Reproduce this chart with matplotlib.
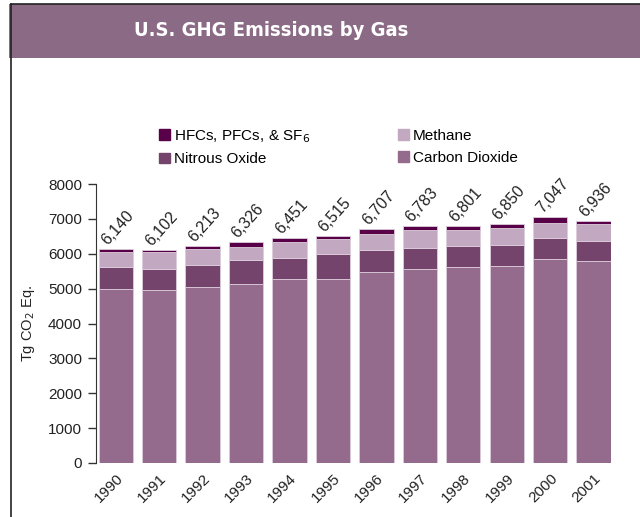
import numpy as np
import matplotlib
matplotlib.use('Agg')
import matplotlib.pyplot as plt
from matplotlib.patches import Rectangle, Patch
from matplotlib.lines import Line2D
from matplotlib import font_manager

plt.rcParams['font.family'] = ['Liberation Sans', 'DejaVu Sans']

years = ['1990', '1991', '1992', '1993', '1994', '1995',
         '1996', '1997', '1998', '1999', '2000', '2001']
totals = [6140, 6102, 6213, 6326, 6451, 6515, 6707, 6783, 6801, 6850, 7047, 6936]

# Tg CO2 Eq. (bottom to top)
co2 = [4990, 4950, 5045, 5140, 5275, 5275, 5490, 5560, 5625, 5655, 5855, 5785]
n2o = [635, 605, 645, 685, 605, 705, 615, 615, 585, 585, 590, 590]
ch4 = [430, 490, 455, 355, 455, 430, 475, 505, 485, 505, 440, 465]
hfc = [85, 57, 68, 146, 116, 105, 127, 103, 106, 105, 162, 96]

c_co2 = '#946b8d'
c_n2o = '#74446c'
c_ch4 = '#c2a8c0'
c_hfc = '#580048'
band = '#8a6a84'

fig = plt.figure(figsize=(6.4, 5.17), dpi=100)

# header band and frame
fig.patches.append(Rectangle((9 / 640, 1 - 58 / 517), 1, 54 / 517,
                             transform=fig.transFigure, facecolor=band,
                             edgecolor='none', zorder=0))
fig.lines.append(Line2D([11 / 640, 11 / 640], [0, 1 - 3.5 / 517],
                        transform=fig.transFigure, color='#222222', lw=1.2))
fig.lines.append(Line2D([11 / 640, 1], [1 - 3.5 / 517, 1 - 3.5 / 517],
                        transform=fig.transFigure, color='#222222', lw=1.2))

# a condensed bold face if there is one, else squeeze the size down
title_kw = dict(family=['Liberation Sans', 'DejaVu Sans'], fontsize=13.5)
fp = font_manager.FontProperties(family='DejaVu Sans', stretch='condensed', weight='bold')
found = font_manager.findfont(fp, fallback_to_default=False)
if 'Condensed' in found:
    title_kw = dict(family='DejaVu Sans', stretch='condensed', fontsize=14.5)
fig.text(271 / 640, 1 - 31 / 517, 'U.S. GHG Emissions by Gas', color='white',
         fontweight='bold', ha='center', va='center', **title_kw)

ax = fig.add_axes([96 / 640, 1 - 463 / 517, 515 / 640, 279 / 517])
x = np.arange(len(years))
w = 0.79
ec = '#dccddb'
b1 = np.array(co2)
b2 = b1 + np.array(n2o)
b3 = b2 + np.array(ch4)
ax.bar(x, co2, w, color=c_co2, edgecolor=ec, linewidth=0.6)
ax.bar(x, n2o, w, bottom=b1, color=c_n2o, edgecolor=ec, linewidth=0.6)
ax.bar(x, ch4, w, bottom=b2, color=c_ch4, edgecolor=ec, linewidth=0.6)
ax.bar(x, hfc, w, bottom=b3, color=c_hfc, edgecolor=ec, linewidth=0.6)

tops = b3 + np.array(hfc)
for i, t in enumerate(totals):
    ax.text(i - 0.13, tops[i] + 40, f'{t:,}', rotation=48, rotation_mode='anchor',
            ha='left', va='bottom', fontsize=11.5, color='#222222')

ax.set_xlim(-0.455, 11.4)
ax.set_ylim(0, 8000)
ax.set_yticks(range(0, 8001, 1000))
ax.set_yticklabels([str(v) for v in range(0, 8001, 1000)], fontsize=11, color='#222222')
ax.set_xticks(x)
ax.set_xticklabels(years, rotation=45, ha='right', rotation_mode='anchor',
                   fontsize=11, color='#222222')
ax.tick_params(axis='x', length=0, pad=6)
ax.tick_params(axis='y', length=6, width=1, color='#333333', pad=4)
for s in ['top', 'right', 'bottom']:
    ax.spines[s].set_visible(False)
ax.spines['left'].set_color('#333333')
ax.set_ylabel('Tg CO$_2$ Eq.', fontsize=10.5, color='#222222', labelpad=8)

handles = [Patch(color=c_hfc), Patch(color=c_n2o), Patch(color=c_ch4), Patch(color=c_co2)]
labels = ['HFCs, PFCs, & SF$_6$', 'Nitrous Oxide', 'Methane', 'Carbon Dioxide']
fig.legend(handles, labels, ncol=2, loc='upper left',
           bbox_to_anchor=(159 / 640, 1 - 128 / 517), frameon=False,
           fontsize=11, handlelength=0.7, handleheight=0.7, handletextpad=0.25,
           columnspacing=5.8, labelspacing=0.5, borderpad=0, borderaxespad=0)

fig.savefig('out.png', dpi=100)
